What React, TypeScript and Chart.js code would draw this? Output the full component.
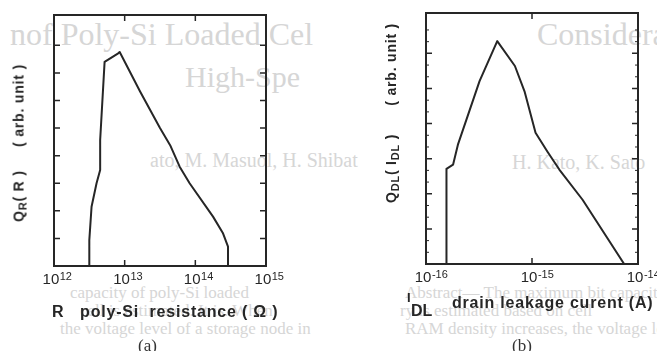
import React, { useEffect, useRef } from "react";
import { Chart, registerables } from "chart.js";

Chart.register(...registerables);

// ---- (a) Q_R(R) vs poly-Si resistance R (ohm) ----
const resistanceOhm = [
  3.16e12, 3.16e12, 3.4e12, 4.0e12, 4.5e12, 4.5e12, 5.2e12, 8.1e12, 8.5e12,
  1.66e13, 3.16e13, 4.4e13, 6.0e13, 8.3e13, 1.78e14, 2.45e14, 2.9e14, 2.9e14,
];
const qR = [0, 0.94, 2.15, 3.0, 3.48, 4.57, 7.4, 7.71, 7.76, 6.32, 5.0, 4.38, 3.6, 3.0, 1.79, 1.2, 0.7, 0];
const aDecades = [1e12, 1e13, 1e14, 1e15];
const aExponents = ["12", "13", "14", "15"];

// ---- (b) Q_DL(I_DL) vs drain leakage current (A) ----
const leakageA = [
  1.56e-16, 1.56e-16, 1.8e-16, 2.0e-16, 3.2e-16, 4.7e-16, 6.9e-16, 8.5e-16,
  1.08e-15, 1.4e-15, 1.81e-15, 3.0e-15, 7.4e-15,
];
const qDL = [0, 2.71, 2.83, 3.4, 5.21, 6.35, 5.64, 4.92, 3.74, 3.2, 2.69, 1.83, 0];
const bDecades = [1e-16, 1e-15, 1e-14];
const bExponents = ["-16", "-15", "-14"];

const INK = "#262626";

const framePlugin = {
  id: "frameTicks",
  afterDraw(chart: any) {
    const opts = chart.options.plugins.frameTicks || {};
    const { ctx, chartArea } = chart;
    const { left, right, top, bottom } = chartArea;
    const xs = chart.scales.x;
    const ys = chart.scales.y;
    ctx.save();
    ctx.strokeStyle = INK;
    ctx.lineWidth = 2;
    ctx.strokeRect(left, top, right - left, bottom - top);
    ctx.lineWidth = 1.5;
    // x decade ticks (inward, top and bottom)
    const decs: number[] = opts.decades || [];
    decs.forEach((v) => {
      const px = xs.getPixelForValue(v);
      if (px <= left + 2 || px >= right - 2) return;
      ctx.beginPath();
      ctx.moveTo(px, bottom);
      ctx.lineTo(px, bottom - 6);
      ctx.moveTo(px, top);
      ctx.lineTo(px, top + 6);
      ctx.stroke();
    });
    // y ticks (inward, left and right)
    ys.ticks.forEach((t: any) => {
      const v = t.value;
      if (v <= 0 || v >= ys.max || Math.abs(v - Math.round(v)) > 1e-6) return;
      const py = ys.getPixelForValue(v);
      ctx.beginPath();
      ctx.moveTo(left, py);
      ctx.lineTo(left + 6, py);
      ctx.moveTo(right, py);
      ctx.lineTo(right - 6, py);
      ctx.stroke();
    });
    const minorDiv: number = opts.minorDiv || 0;
    if (minorDiv > 1) {
      ctx.lineWidth = 1;
      for (let v = 0; v < ys.max; v += 1) {
        for (let k = 1; k < minorDiv; k++) {
          const mv = v + k / minorDiv;
          if (mv >= ys.max) continue;
          const py = ys.getPixelForValue(mv);
          ctx.beginPath();
          ctx.moveTo(left, py);
          ctx.lineTo(left + 3, py);
          ctx.moveTo(right, py);
          ctx.lineTo(right - 3, py);
          ctx.stroke();
        }
      }
    }
    // decade tick labels: 10 with raised exponent
    const exps: string[] = opts.exponents || [];
    ctx.fillStyle = INK;
    ctx.textBaseline = "alphabetic";
    ctx.textAlign = "left";
    decs.forEach((v, i) => {
      const px = xs.getPixelForValue(v);
      ctx.font = '15px "Liberation Sans", Arial, sans-serif';
      const w1 = ctx.measureText("10").width;
      ctx.font = '11px "Liberation Sans", Arial, sans-serif';
      const w2 = ctx.measureText(exps[i]).width;
      const x0 = px - (w1 + w2) / 2 + (opts.labelShift || 0);
      const base = bottom + 18;
      ctx.font = '15px "Liberation Sans", Arial, sans-serif';
      ctx.fillText("10", x0, base);
      ctx.font = '11px "Liberation Sans", Arial, sans-serif';
      ctx.fillText(exps[i], x0 + w1 + 0.5, base - 4);
    });
    ctx.restore();
  },
};

function makeConfig(
  xs: number[],
  ys: number[],
  xMin: number,
  xMax: number,
  yMax: number,
  decades: number[],
  exponents: string[],
  padding: any,
  minorDiv: number,
  labelShift: number
): any {
  return {
    type: "scatter",
    data: {
      datasets: [
        {
          data: xs.map((x, i) => ({ x, y: ys[i] })),
          showLine: true,
          borderColor: INK,
          borderWidth: 2,
          pointRadius: 0,
          tension: 0,
          fill: false,
          borderJoinStyle: "round",
        },
      ],
    },
    options: {
      animation: false,
      responsive: false,
      maintainAspectRatio: false,
      devicePixelRatio: 1,
      layout: { padding },
      plugins: {
        legend: { display: false },
        tooltip: { enabled: false },
        frameTicks: { decades, exponents, minorDiv, labelShift },
      },
      scales: {
        x: {
          type: "logarithmic",
          min: xMin,
          max: xMax,
          afterBuildTicks: (s: any) => {
            s.ticks = decades.map((v) => ({ value: v }));
          },
          ticks: { display: false },
          grid: { display: false, drawTicks: false },
          border: { display: false },
          afterFit: (s: any) => {
            s.height = 30;
          },
        },
        y: {
          type: "linear",
          min: 0,
          max: yMax,
          ticks: { display: false, stepSize: 1 },
          grid: { display: false, drawTicks: false },
          border: { display: false },
          afterFit: (s: any) => {
            s.width = 0;
          },
        },
      },
    },
    plugins: [framePlugin],
  };
}

function Plot(props: { cfg: () => any; left: number; width: number }) {
  const ref = useRef<HTMLCanvasElement | null>(null);
  useEffect(() => {
    if (!ref.current) return;
    const chart = new Chart(ref.current, props.cfg());
    return () => chart.destroy();
  }, []);
  return (
    <canvas
      ref={ref}
      width={props.width}
      height={351}
      style={{ position: "absolute", left: props.left, top: 0, width: props.width, height: 351 }}
    />
  );
}

const faint: React.CSSProperties = {
  position: "absolute",
  color: "#d6d6d6",
  fontFamily: '"Liberation Serif", "DejaVu Serif", serif',
  whiteSpace: "pre",
  lineHeight: 1,
};

const bold: React.CSSProperties = {
  position: "absolute",
  color: INK,
  fontFamily: '"Liberation Sans", Arial, sans-serif',
  fontWeight: 700,
  whiteSpace: "pre",
  lineHeight: 1.15,
};

export default function App() {
  return (
    <div
      style={{
        position: "fixed",
        left: 0,
        top: 0,
        width: 657,
        height: 351,
        overflow: "hidden",
        background: "#fff",
      }}
    >
      {/* faint show-through page text */}
      <div style={{ ...faint, left: 10, top: 18, fontSize: 32 }}>{"nof Poly-Si Loaded Cel"}</div>
      <div style={{ ...faint, left: 537, top: 18, fontSize: 32 }}>{"Consideration"}</div>
      <div style={{ ...faint, left: 185, top: 62, fontSize: 30 }}>{"High-Spe"}</div>
      <div style={{ ...faint, left: 150, top: 150, fontSize: 20 }}>{"ato, M. Masuol, H. Shibat"}</div>
      <div style={{ ...faint, left: 512, top: 152, fontSize: 20 }}>{"H. Kato, K. Sato"}</div>
      <div style={{ ...faint, left: 70, top: 284, fontSize: 17 }}>{"capacity of poly-Si loaded"}</div>
      <div style={{ ...faint, left: 80, top: 302, fontSize: 17 }}>{"cell is estimated. It is. When"}</div>
      <div style={{ ...faint, left: 60, top: 320, fontSize: 17 }}>{"the voltage level of a storage node in"}</div>
      <div style={{ ...faint, left: 405, top: 284, fontSize: 17 }}>{"Abstract— The maximum bit capacity"}</div>
      <div style={{ ...faint, left: 400, top: 302, fontSize: 17 }}>{"ry is estimated based on cell"}</div>
      <div style={{ ...faint, left: 405, top: 320, fontSize: 17 }}>{"RAM density increases, the voltage level"}</div>

      <Plot
        left={0}
        width={330}
        cfg={() =>
          makeConfig(resistanceOhm, qR, 1e12, 1e15, 9.1, aDecades, aExponents, { left: 54, right: 64, top: 15, bottom: 55 }, 0, 3)
        }
      />
      <Plot
        left={330}
        width={360}
        cfg={() =>
          makeConfig(leakageA, qDL, 1e-16, 1e-14, 7.15, bDecades, bExponents, { left: 96, right: 52, top: 13, bottom: 57 }, 3, 5)
        }
      />

      {/* (a) axis titles */}
      <div
        style={{
          ...bold,
          left: 20,
          top: 143,
          fontSize: 14,
          letterSpacing: 0.8,
          transform: "translate(-50%, -50%) rotate(-90deg)",
        }}
      >
        Q<sub style={{ fontSize: 11, verticalAlign: "-0.3em" }}>R</sub>
        {"( R )     ( arb. unit )"}
      </div>
      <div style={{ ...bold, left: 52, top: 303, fontSize: 16, letterSpacing: 0.8 }}>
        {"R   poly-Si  resistance ( \u03A9 )"}
      </div>
      <div style={{ ...faint, color: "#333", left: 138, top: 337, fontSize: 17 }}>(a)</div>

      {/* (b) axis titles */}
      <div
        style={{
          ...bold,
          left: 392,
          top: 113,
          fontSize: 14,
          letterSpacing: 0.8,
          transform: "translate(-50%, -50%) rotate(-90deg)",
        }}
      >
        Q<sub style={{ fontSize: 11, verticalAlign: "-0.3em" }}>DL</sub>
        {"( I"}
        <sub style={{ fontSize: 11, verticalAlign: "-0.3em" }}>DL</sub>
        {" )      ( arb. unit )"}
      </div>
      <div style={{ ...bold, left: 407, top: 291, fontSize: 13 }}>I</div>
      <div style={{ ...bold, left: 411, top: 302, fontSize: 16 }}>DL</div>
      <div style={{ ...bold, left: 452, top: 294, fontSize: 16, letterSpacing: 0.8 }}>
        {"drain leakage curent (A)"}
      </div>
      <div style={{ ...faint, color: "#333", left: 512, top: 337, fontSize: 17 }}>(b)</div>
    </div>
  );
}
